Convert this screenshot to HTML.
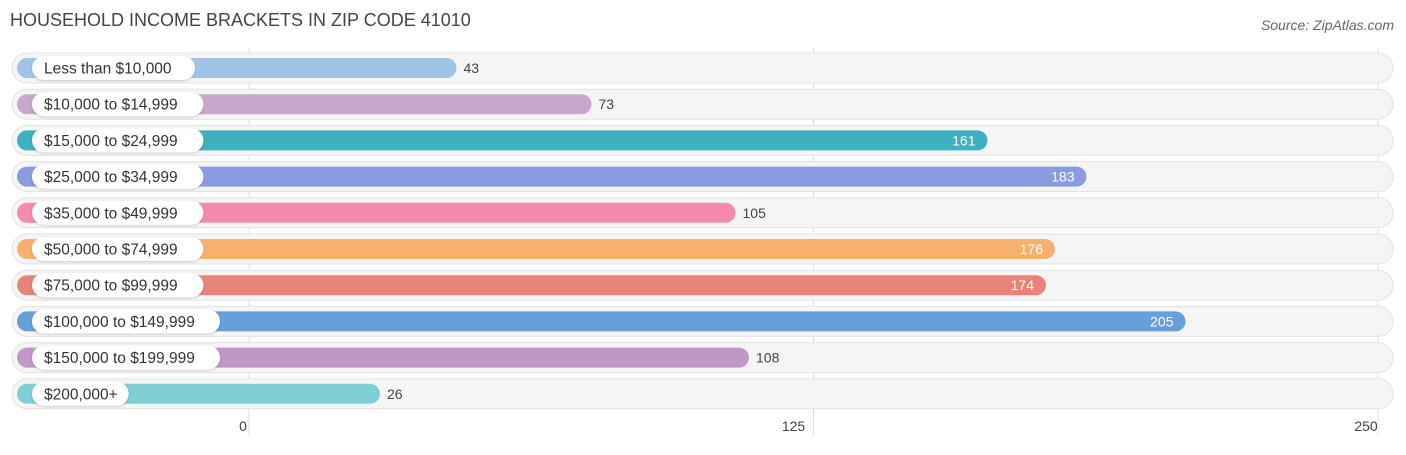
<!DOCTYPE html>
<html><head><meta charset="utf-8"><style>
body{margin:0;background:#fff;font-family:"Liberation Sans",sans-serif;}
</style></head><body>
<svg id="chart" width="1406" height="450" xmlns="http://www.w3.org/2000/svg">
<defs><filter id="sh" x="-5%" y="-30%" width="110%" height="160%"><feDropShadow dx="0" dy="1" stdDeviation="1.2" flood-color="#000" flood-opacity="0.18"/></filter></defs>
<text x="10" y="26" font-size="18" fill="#444">HOUSEHOLD INCOME BRACKETS IN ZIP CODE 41010</text>
<text x="1394" y="30" font-size="14" fill="#666" font-style="italic" text-anchor="end">Source: ZipAtlas.com</text>
<g id="grid"></g><g id="rows"></g><g id="ticks"></g>
</svg>
<script>
const categories=["Less than $10,000","$10,000 to $14,999","$15,000 to $24,999","$25,000 to $34,999","$35,000 to $49,999","$50,000 to $74,999","$75,000 to $99,999","$100,000 to $149,999","$150,000 to $199,999","$200,000+"];
const values=[43,73,161,183,105,176,174,205,108,26];
const colors=["#a0c3e8","#c9a6cc","#3fb0bf","#8a9be0","#f48aaf","#f8b06e","#e8837a","#669fdc","#bf98c6","#7fcfd4"];
const tickValues=[0,125,250];
const NS="http://www.w3.org/2000/svg";
const svg=document.getElementById('chart');
function xBar(v){return 263+v*4.5;}
function xTick(v){return 249+v*(1378-249)/250;}
function yRow(i){return 68+i*36.2;}
function mk(t,a,p){const e=document.createElementNS(NS,t);for(const k in a)e.setAttribute(k,a[k]);p.appendChild(e);return e;}
const grid=document.getElementById('grid'),rows=document.getElementById('rows'),ticks=document.getElementById('ticks');
tickValues.forEach(t=>{
 const l=mk('line',{x1:xTick(t),x2:xTick(t),y1:48,y2:435,stroke:'#ddd','stroke-width':1},grid);
 
 
 const tx=mk('text',{x:xTick(t)-(t===0?6:t===250?12:20),y:431,'font-size':14,fill:'#444','text-anchor':'middle'},ticks);
 tx.textContent=t;
 
 
});
categories.forEach((c,i)=>{
 const y=yRow(i);
 const g=mk('g',{},rows);
 
 
 const bg=mk('rect',{x:12,y:y-15,width:1381,height:30,rx:15,fill:'#f5f5f5',stroke:'#e2e2e2','stroke-width':1},g);
 
 
 const end=xBar(values[i]);
 const b=mk('rect',{x:17,y:y-10,width:end-17,height:20,rx:10,fill:colors[i]},g);
 
 
 const tw=c.length*8.3+22;
 const p=mk('rect',{x:32,y:y-12,width:tw,height:24,rx:12,fill:'#fff',filter:'url(#sh)'},g);
 
 
 const lt=mk('text',{x:44,y:y+5.5,'font-size':15.5,fill:'#333'},g);
 lt.textContent=c;
 
 
 const inside=values[i]>=150;
 const vt=mk('text',{x:inside?end-12:end+7,y:y+5,'font-size':14,fill:inside?'#fff':'#444','text-anchor':inside?'end':'start'},g);
 vt.textContent=values[i];
 
 
});
</script>
</body></html>
